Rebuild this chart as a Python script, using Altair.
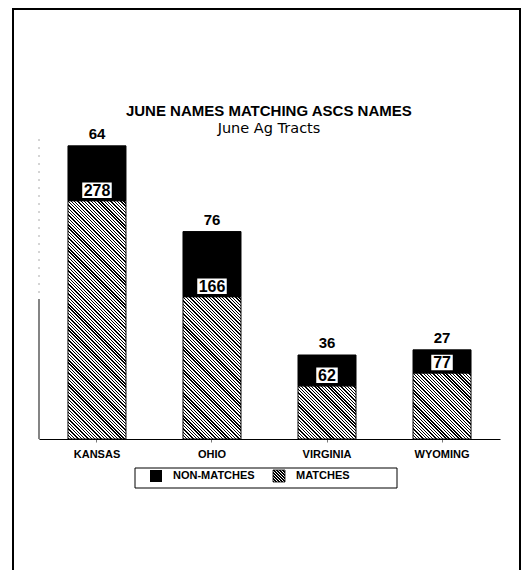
import altair as alt
import pandas as pd

# ---- data ----
states = ["KANSAS", "OHIO", "VIRGINIA", "WYOMING"]
matches = [278, 166, 62, 77]
non_matches = [64, 76, 36, 27]
series = ["NON-MATCHES", "MATCHES"]
title_text = "JUNE NAMES MATCHING ASCS NAMES"
subtitle_text = "June Ag Tracts"

# ---- layout / style ----
W, H = 461, 300
YMAX = 350
PAD_INNER = 0.4957
PAD_OUTER = 0.252
FONT = "Liberation Sans"

df = pd.DataFrame({"state": states, "matches": matches, "non_matches": non_matches})
step = W / (len(states) - PAD_INNER + 2 * PAD_OUTER)
bandwidth = step * (1 - PAD_INNER)


def hatch(w, h, period=3.3, frac=0.42):
    """Diagonal '\\' hatch as a striped linear gradient for a w x h box."""
    a = w * (w + h) / (w * w + h * h)
    n = max(2, round((w + h) / period))
    stops = []
    for i in range(n):
        t0 = round(i / n, 5)
        t1 = round((i + frac) / n, 5)
        t2 = round((i + 1) / n, 5)
        stops += [
            alt.GradientStop(offset=t0, color="black"),
            alt.GradientStop(offset=t1, color="black"),
            alt.GradientStop(offset=t1, color="white"),
            alt.GradientStop(offset=t2, color="white"),
        ]
    return alt.LinearGradient(gradient="linear", stops=stops,
                              x1=0, y1=1, x2=round(a, 5), y2=round(1 - a * h / w, 5))


x_enc = alt.X(
    "state:N", sort=states,
    scale=alt.Scale(paddingInner=PAD_INNER, paddingOuter=PAD_OUTER),
    axis=alt.Axis(title=None, labelAngle=0, labelFont=FONT, labelFontWeight="bold",
                  labelFontSize=11, labelColor="black", labelPadding=6, tickSize=3,
                  tickColor="#777", domainColor="black", domainWidth=1.2, grid=False),
)
y_scale = alt.Scale(domain=[0, YMAX], nice=False, zero=True)

base = alt.Chart(df).transform_calculate(total="datum.matches + datum.non_matches")

layers = []

# hatched "matches" segments, one gradient per bar height
for s, m in zip(states, matches):
    h = m / YMAX * H
    layers.append(
        base.transform_filter(alt.datum.state == s)
        .mark_bar(fill=hatch(bandwidth, h), stroke="black", strokeWidth=1)
        .encode(x=x_enc, y=alt.Y("matches:Q", scale=y_scale, axis=None))
    )

# black "non-matches" segments
layers.append(
    base.mark_bar(fill="black", stroke="black", strokeWidth=1)
    .encode(x=x_enc, y=alt.Y("total:Q", scale=y_scale, axis=None), y2="matches:Q")
)

# labels above bars
layers.append(
    base.mark_text(baseline="bottom", dy=-4, font=FONT, fontSize=15, fontWeight="bold", color="black")
    .encode(x=x_enc, y=alt.Y("total:Q", scale=y_scale, axis=None), text="non_matches:Q")
)

# white boxes for match counts
for cond, wbox in [("datum.matches >= 100", 31), ("datum.matches < 100", 23)]:
    layers.append(
        base.transform_filter(cond)
        .mark_bar(width=wbox, fill="white", stroke="black", strokeWidth=1.5, yOffset=-2, y2Offset=-19)
        .encode(x=x_enc, y=alt.Y("matches:Q", scale=y_scale, axis=None), y2="matches:Q")
    )
layers.append(
    base.mark_text(baseline="middle", dy=-10, font=FONT, fontSize=16, fontWeight="bold", color="black")
    .encode(x=x_enc, y=alt.Y("matches:Q", scale=y_scale, axis=None), text="matches:Q")
)

one = alt.Chart(alt.Data(values=[{"k": 0}]))

# y axis line (faint dashed top, solid bottom)
layers.append(one.mark_rule(color="#aaa", strokeDash=[2, 6], strokeWidth=1)
              .encode(x=alt.value(0), y=alt.value(0), y2=alt.value(160)))
layers.append(one.mark_rule(color="#333", strokeWidth=1.2)
              .encode(x=alt.value(0), y=alt.value(160), y2=alt.value(H)))

# page frame
layers.append(one.mark_rect(fill="transparent", stroke="black", strokeWidth=2)
              .encode(x=alt.value(-26), x2=alt.value(481), y=alt.value(-130), y2=alt.value(600)))

# title and subtitle
layers.append(one.mark_text(align="center", baseline="alphabetic", font=FONT, fontSize=15,
                            fontWeight="bold", color="black")
              .encode(x=alt.value(229.8), y=alt.value(-23.3), text=alt.value(title_text)))
layers.append(one.mark_text(align="center", baseline="alphabetic", font="DejaVu Sans", fontSize=14.5,
                            color="black")
              .encode(x=alt.value(230), y=alt.value(-6.3), text=alt.value(subtitle_text)))

# legend
LY = 329
layers.append(one.mark_rect(fill="transparent", stroke="black", strokeWidth=1)
              .encode(x=alt.value(96), x2=alt.value(358), y=alt.value(LY), y2=alt.value(LY + 20)))
layers.append(one.mark_rect(fill="black")
              .encode(x=alt.value(111), x2=alt.value(123), y=alt.value(LY + 2), y2=alt.value(LY + 14)))
layers.append(one.mark_rect(fill=hatch(12, 12, period=3.0), stroke="black", strokeWidth=0.8)
              .encode(x=alt.value(234), x2=alt.value(246), y=alt.value(LY + 2), y2=alt.value(LY + 14)))
layers.append(one.mark_text(align="left", baseline="middle", font=FONT, fontSize=11, fontWeight="bold", color="black")
              .encode(x=alt.value(134), y=alt.value(LY + 8), text=alt.value(series[0])))
layers.append(one.mark_text(align="left", baseline="middle", font=FONT, fontSize=11, fontWeight="bold", color="black")
              .encode(x=alt.value(257), y=alt.value(LY + 8), text=alt.value(series[1])))

chart = alt.layer(*layers).properties(
    width=W, height=H,
    autosize=alt.AutoSizeParams(type="none"),
    padding={"left": 31, "right": 21, "top": 131, "bottom": 131},
    background="white",
).configure_view(stroke=None)

chart.save("out.html", embed_options={"renderer": "svg", "actions": False})
